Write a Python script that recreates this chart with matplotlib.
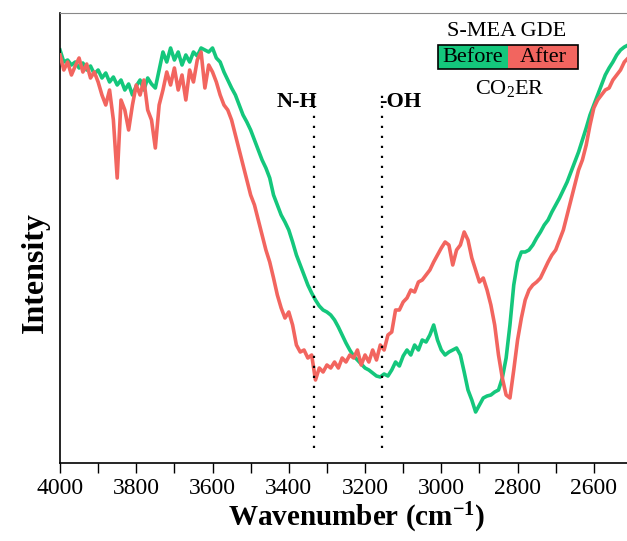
import numpy as np
import matplotlib
matplotlib.use("Agg")
import matplotlib.pyplot as plt
from matplotlib.patches import Rectangle
from matplotlib.ticker import MultipleLocator

plt.rcParams['font.family'] = ['Liberation Serif', 'DejaVu Serif']
plt.rcParams['mathtext.fontset'] = 'custom'
plt.rcParams['mathtext.rm'] = 'Liberation Serif'
plt.rcParams['mathtext.bf'] = 'Liberation Serif:bold'
plt.rcParams['mathtext.default'] = 'regular'

# wavenumber grid, 4000 -> 2510 cm-1 every 10
wn = np.arange(4000, 2505, -10)

before = [413, 401, 403, 398, 401, 395, 400, 393, 397, 389,
          393, 385, 390, 381, 386, 378, 383, 373, 379, 368,
          377, 383, 373, 385, 379, 375, 393, 411, 401, 415,
          403, 411, 398, 408, 401, 411, 407, 415, 413, 411,
          415, 405, 401, 391, 383, 375, 368, 358, 348, 341,
          333, 323, 313, 303, 295, 285, 268, 258, 248, 241,
          233, 221, 208, 198, 188, 178, 170, 163, 157, 153,
          151, 148, 143, 136, 128, 120, 113, 107, 103, 99,
          95, 93, 90, 87, 86, 89, 87, 93, 101, 97,
          107, 113, 108, 118, 113, 123, 121, 128, 138, 123,
          113, 108, 111, 113, 115, 108, 91, 73, 63, 51,
          58, 65, 67, 68, 71, 73, 85, 105, 138, 178,
          201, 211, 211, 213, 218, 225, 231, 238, 243, 251,
          258, 265, 273, 281, 291, 301, 311, 323, 335, 348,
          358, 368, 378, 388, 395, 401, 408, 413, 416, 418]

after = [408, 393, 401, 388, 397, 405, 391, 399, 385, 391,
         381, 368, 358, 373, 343, 285, 363, 353, 333, 358,
         378, 368, 383, 353, 343, 315, 358, 373, 391, 378,
         395, 373, 388, 363, 393, 381, 403, 411, 375, 398,
         391, 381, 368, 358, 353, 343, 328, 313, 298, 283,
         268, 258, 243, 228, 213, 201, 185, 168, 155, 145,
         151, 138, 118, 111, 113, 105, 108, 83, 95, 91,
         98, 95, 101, 95, 105, 101, 108, 105, 113, 98,
         108, 101, 113, 103, 118, 113, 128, 131, 153, 153,
         161, 165, 173, 171, 181, 183, 188, 193, 201, 208,
         215, 221, 218, 198, 213, 218, 231, 223, 205, 193,
         181, 185, 173, 158, 138, 108, 85, 68, 65, 93,
         123, 145, 163, 173, 178, 181, 185, 193, 201, 208,
         213, 223, 233, 248, 263, 278, 293, 303, 318, 338,
         355, 363, 368, 373, 375, 383, 388, 393, 401, 405]

peaks = [3334, 3156]
peak_labels = ['N-H', '-OH']

green = '#14c77c'
red = '#f2655f'

fig = plt.figure(figsize=(6.27, 5.41), dpi=100)
ax = fig.add_axes([60/627, 1-463/541, 1-60/627, 450/541])

ax.plot(wn, after, color=red, lw=2.6, zorder=3)
ax.plot(wn, before, color=green, lw=2.6, zorder=2)

for p in peaks:
    ax.plot([p, p], [15, 371], color='black', ls=(0, (1, 3.5)), lw=1.6, zorder=4)
ax.text(peaks[0] - 8, 361, peak_labels[0], ha='right', va='center',
        fontsize=16, fontweight='bold')
ax.text(peaks[1] + 8, 361, peak_labels[1], ha='left', va='center',
        fontsize=16, fontweight='bold')

# legend-like box
ax.add_patch(Rectangle((0.667, 0.876), 0.123, 0.053, transform=ax.transAxes,
                       facecolor=green, edgecolor='none', zorder=5))
ax.add_patch(Rectangle((0.790, 0.876), 0.124, 0.053, transform=ax.transAxes,
                       facecolor=red, edgecolor='none', zorder=5))
ax.add_patch(Rectangle((0.667, 0.876), 0.247, 0.053, transform=ax.transAxes,
                       facecolor='none', edgecolor='black', lw=1.2, zorder=6))
ax.text(0.788, 0.958, 'S-MEA GDE', transform=ax.transAxes, ha='center', va='center', fontsize=16)
ax.text(0.728, 0.902, 'Before', transform=ax.transAxes, ha='center', va='center', fontsize=16, zorder=7)
ax.text(0.852, 0.902, 'After', transform=ax.transAxes, ha='center', va='center', fontsize=16, zorder=7)
ax.text(0.794, 0.833, 'CO$_2$ER', transform=ax.transAxes, ha='center', va='center', fontsize=16)

ax.set_xlim(4000, 2513)
ax.set_ylim(0, 450)
ax.xaxis.set_major_locator(MultipleLocator(200))
ax.xaxis.set_minor_locator(MultipleLocator(100))
ax.tick_params(axis='x', which='both', direction='out', length=7, width=1, labelsize=17, pad=4)
ax.set_yticks([])
ax.spines['right'].set_visible(False)
ax.spines['top'].set_color('#888888')
ax.spines['left'].set_linewidth(1.2)
ax.spines['bottom'].set_linewidth(1.2)

ax.set_xlabel('Wavenumber (cm$^{\\mathbf{-1}}$)', fontsize=21, fontweight='bold')
ax.xaxis.set_label_coords(0.524, -0.085)
ax.set_ylabel('Intensity', fontsize=23, fontweight='bold')
ax.yaxis.set_label_coords(-0.018, 0.424)

fig.savefig('out.png', dpi=100)
